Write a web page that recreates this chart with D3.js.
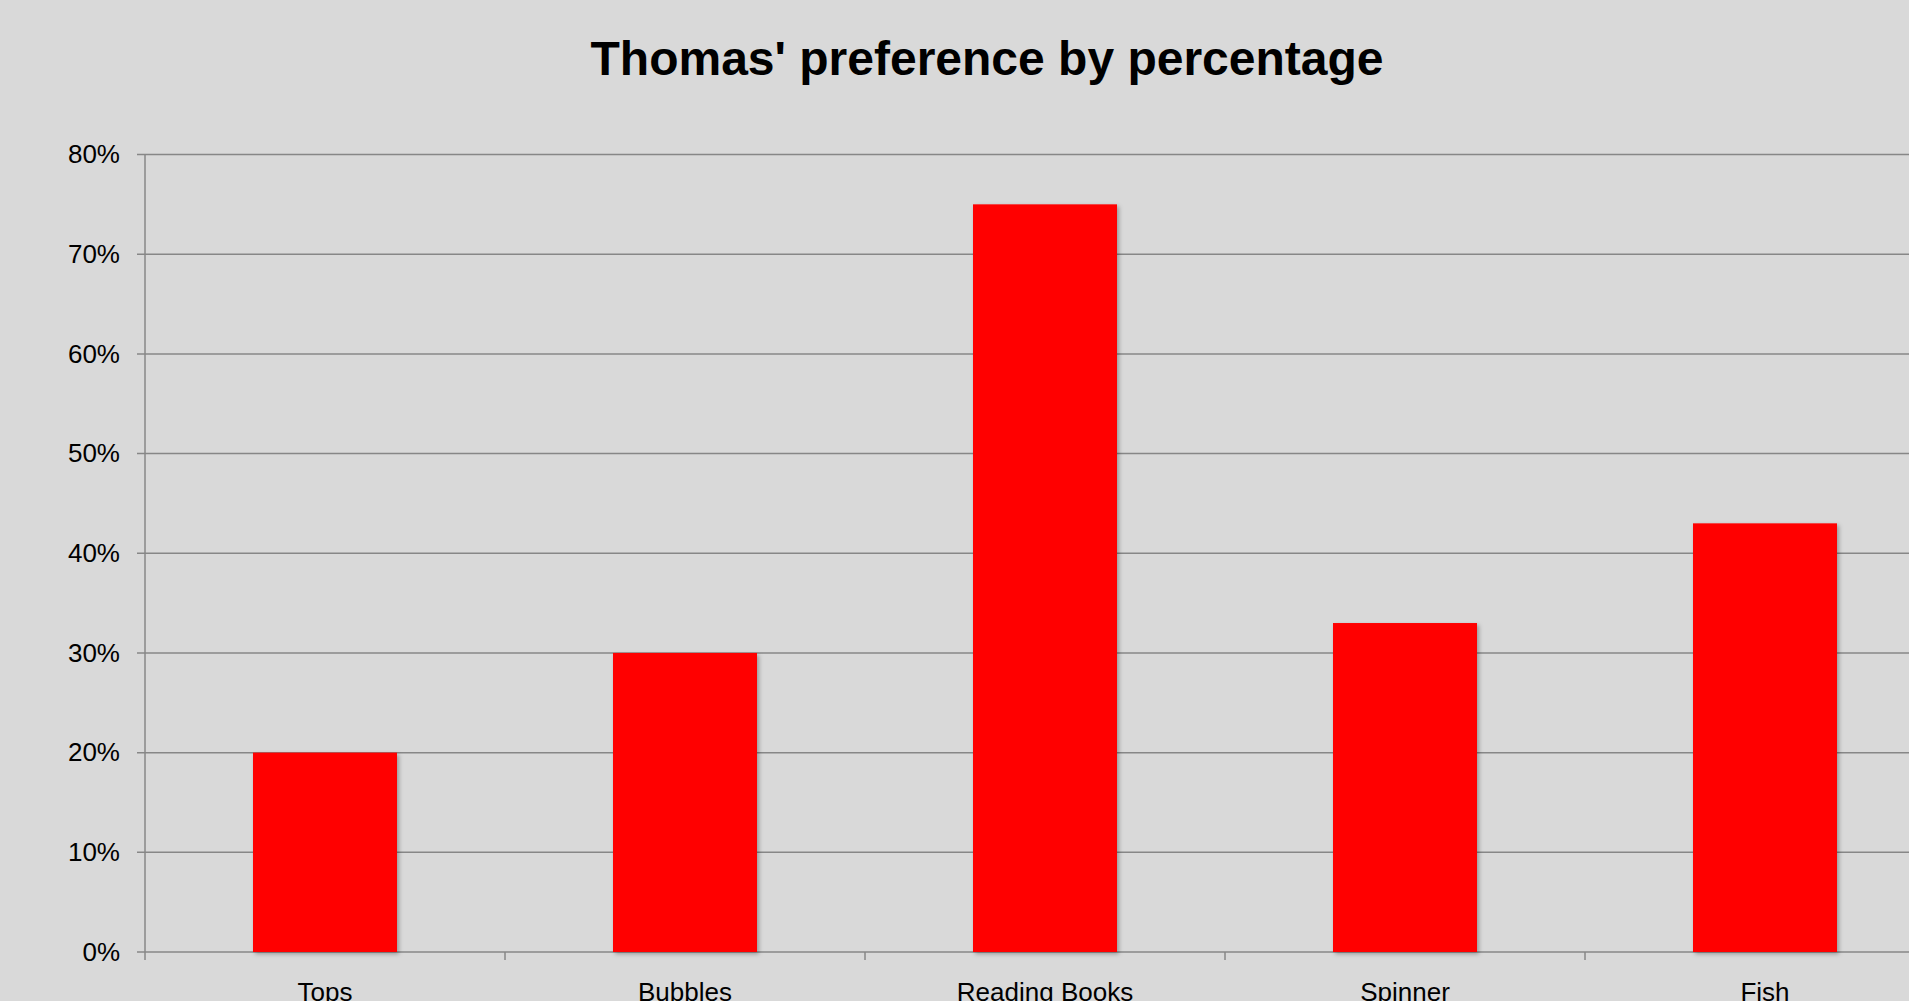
<!DOCTYPE html>
<html>
<head>
<meta charset="utf-8">
<script src="https://cdn.jsdelivr.net/npm/d3@7"></script>
<style>
  body { margin: 0; background: #d9d9d9; overflow: hidden; }
  svg { display: block; font-family: "Liberation Sans", Arial, sans-serif; }
</style>
</head>
<body>
<div id="chart"></div>
<script>
var categories = ['Tops', 'Bubbles', 'Reading Books', 'Spinner', 'Fish'];
var values = [0.20, 0.30, 0.75, 0.33, 0.43];
var yTicks = [0, 0.1, 0.2, 0.3, 0.4, 0.5, 0.6, 0.7, 0.8];
var title = "Thomas' preference by percentage";

var W = 1909, H = 1001;
// plot area (runs past the right edge, like the cropped original)
var plotLeft = 145, plotRight = 1945, plotTop = 154.5, plotBottom = 952;

var svg = d3.select('#chart').append('svg')
    .attr('width', W)
    .attr('height', H);

svg.append('rect').attr('width', W).attr('height', H).attr('fill', '#d9d9d9');

// soft shadow like the office chart bars
var defs = svg.append('defs');
defs.append('filter').attr('id', 'shadow')
    .attr('x', '-10%').attr('y', '-10%').attr('width', '130%').attr('height', '130%')
  .append('feDropShadow')
    .attr('dx', 2).attr('dy', 2).attr('stdDeviation', 2)
    .attr('flood-color', '#000').attr('flood-opacity', 0.3);

var x = d3.scaleBand().domain(categories).range([plotLeft, plotRight]);
var y = d3.scaleLinear().domain([0, 0.8]).range([plotBottom, plotTop]);

var gridColor = '#878787';

// gridlines (they also serve as the left tick marks)
svg.append('g').selectAll('line').data(yTicks).enter()
  .append('line')
    .attr('x1', plotLeft - 8)
    .attr('x2', plotRight)
    .attr('y1', function(d) { return y(d); })
    .attr('y2', function(d) { return y(d); })
    .attr('stroke', gridColor)
    .attr('stroke-width', 1.5);

// y labels
var yAxis = svg.append('g')
    .attr('transform', 'translate(' + plotLeft + ',0)')
    .call(d3.axisLeft(y).tickValues(yTicks).tickFormat(d3.format('.0%')).tickSize(0).tickPadding(25));
yAxis.select('.domain').remove();
yAxis.selectAll('text')
    .attr('font-size', 26)
    .attr('font-family', '"Liberation Sans", Arial, sans-serif')
    .attr('fill', '#000');

// y axis line
svg.append('line')
    .attr('x1', plotLeft).attr('x2', plotLeft)
    .attr('y1', plotTop).attr('y2', plotBottom + 8)
    .attr('stroke', gridColor).attr('stroke-width', 1.5);

// category boundary ticks
svg.append('g').selectAll('line').data(categories.slice(1)).enter()
  .append('line')
    .attr('x1', function(d) { return x(d); })
    .attr('x2', function(d) { return x(d); })
    .attr('y1', plotBottom)
    .attr('y2', plotBottom + 8)
    .attr('stroke', gridColor)
    .attr('stroke-width', 1.5);

// bars
var bw = x.bandwidth() * 0.4;
svg.append('g').selectAll('rect').data(values).enter()
  .append('rect')
    .attr('x', function(d, i) { return x(categories[i]) + (x.bandwidth() - bw) / 2; })
    .attr('y', function(d) { return y(d); })
    .attr('width', bw)
    .attr('height', function(d) { return plotBottom - y(d); })
    .attr('fill', '#ff0000')
    .attr('filter', 'url(#shadow)');

// x labels
var xAxis = svg.append('g')
    .attr('transform', 'translate(0,' + plotBottom + ')')
    .call(d3.axisBottom(x).tickSize(0).tickPadding(31));
xAxis.select('.domain').remove();
xAxis.selectAll('text')
    .attr('font-size', 26)
    .attr('font-family', '"Liberation Sans", Arial, sans-serif')
    .attr('fill', '#000');

// title
svg.append('text')
    .attr('x', 987)
    .attr('y', 75)
    .attr('text-anchor', 'middle')
    .attr('font-size', 48)
    .attr('font-weight', 'bold')
    .attr('fill', '#000')
    .text(title);
</script>
</body>
</html>
